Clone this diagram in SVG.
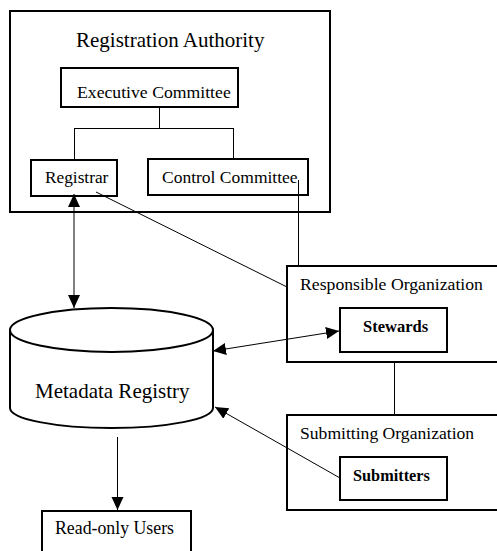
<svg xmlns="http://www.w3.org/2000/svg" width="497" height="551" viewBox="0 0 497 551">
<defs>
<marker id="ah" markerUnits="userSpaceOnUse" markerWidth="14" markerHeight="14" viewBox="0 0 14 14" refX="13" refY="7" orient="auto-start-reverse">
<path d="M0,1 L13,7 L0,13 Z" fill="#000"/>
</marker>
</defs>
<style>
.box{fill:#fff;stroke:#000;stroke-width:2}
.t{font-family:"Liberation Serif","Times New Roman",serif;fill:#000}
.c{fill:none;stroke:#000;stroke-width:1}
</style>
<rect width="497" height="551" fill="#fff"/>
<g id="registration-authority">
<rect class="box" x="10" y="11" width="320" height="201"/>
<text class="t" x="76" y="47" font-size="21">Registration Authority</text>
</g>
<g id="executive-committee">
<rect class="box" x="61" y="68" width="177" height="39"/>
<text class="t" x="77" y="98" font-size="17.7">Executive Committee</text>
</g>
<g id="registrar">
<rect class="box" x="31" y="160" width="86" height="36"/>
<text class="t" x="45" y="183" font-size="17.3">Registrar</text>
</g>
<g id="control-committee">
<rect class="box" x="148" y="159" width="160" height="36"/>
<text class="t" x="162" y="183" font-size="17.5">Control Committee</text>
</g>
<g id="responsible-organization">
<rect class="box" x="287" y="266" width="215" height="96"/>
<text class="t" x="300" y="290" font-size="17.7">Responsible Organization</text>
</g>
<g id="stewards">
<rect class="box" x="340" y="308" width="107" height="44"/>
<text class="t" x="363" y="332" font-size="16.5" font-weight="bold">Stewards</text>
</g>
<g id="submitting-organization">
<rect class="box" x="287" y="415" width="215" height="95"/>
<text class="t" x="300" y="439" font-size="17.6">Submitting Organization</text>
</g>
<g id="submitters">
<rect class="box" x="340" y="457" width="107" height="43"/>
<text class="t" x="353" y="481" font-size="16.3" font-weight="bold">Submitters</text>
</g>
<g id="metadata-registry">
<path class="box" d="M10,330 L10,408 A101.5,20 0 0 0 213,408 L213,330"/>
<ellipse class="box" cx="111.5" cy="330" rx="101.5" ry="22"/>
<text class="t" x="35" y="398" font-size="21" fill="#222">Metadata Registry</text>
</g>
<g id="read-only-users">
<rect class="box" x="42" y="511" width="149" height="50"/>
<text class="t" x="55" y="534" font-size="17.8">Read-only Users</text>
</g>
<g id="connectors">
<path class="c" d="M159.5,107 V128.5 M74.5,128.5 H233.5 M74.5,128 V160 M233.5,128 V159"/>
<path class="c" d="M96,192 L287,287"/>
<path class="c" d="M298.5,180 V266"/>
<path class="c" d="M394.5,362 V415"/>
<path class="c" d="M74,194 V308" stroke-width="2" marker-start="url(#ah)" marker-end="url(#ah)"/>
<path class="c" d="M339,331 L213,351" marker-start="url(#ah)" marker-end="url(#ah)"/>
<path class="c" d="M340,478 L215,407" marker-end="url(#ah)"/>
<path class="c" d="M117.5,437 V510" marker-end="url(#ah)"/>
</g>
</svg>
